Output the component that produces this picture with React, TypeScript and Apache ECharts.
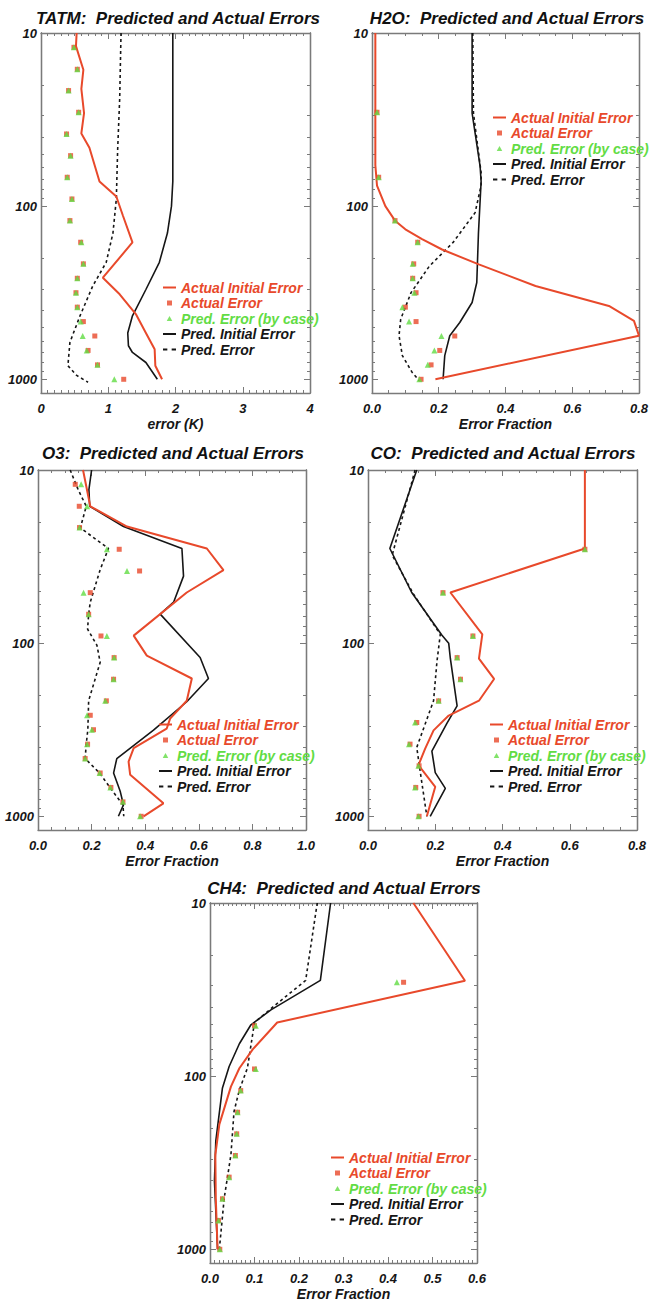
import React, { useEffect, useRef } from "react";
import * as echarts from "echarts";

const RED = "#e8492b";
const GREEN = "#62dc44";
const INK = "#161616";
const FRAME = "#7a7a7a";
const FONT = "'Liberation Sans', Arial, Helvetica, sans-serif";

const LEGEND_NAMES = [
  "Actual Initial Error",
  "Actual Error",
  "Pred. Error (by case)",
  "Pred. Initial Error",
  "Pred. Error",
];
const LEGEND_COLORS = [RED, RED, GREEN, INK, INK];
const LEGEND_ICONS = [
  "path://M0,0H13V2H0Z",
  "path://M0,0H10V10H0Z",
  "path://M5,0L10,9L0,9Z",
  "path://M0,0H13V2H0Z",
  "path://M0,0H4V2H0ZM8,0H12V2H8Z",
];

const Y_MAJOR = [10, 100, 1000];
const Y_MINOR = [20, 30, 40, 50, 60, 70, 80, 90, 200, 300, 400, 500, 600, 700, 800, 900];

const LEVELS_FINE = [12.1, 16.2, 21.5, 28.7, 38.3, 51.1, 68.1, 90.9, 121.2, 161.6, 215.4, 261.0, 316.2, 383.1, 464.2, 562.3, 681.3, 825.4, 1000];
const LEVELS_COARSE = [28.7, 51.1, 90.9, 121.2, 161.6, 215.4, 287.3, 383.1, 510.9, 681.3, 1000];
const LEVELS_H2O = [28.7, 68.1, 121.2, 161.6, 215.4, 261.0, 316.2, 383.1, 464.2, 562.3, 681.3, 825.4, 1000];

// ---- TATM ----
const tatmInitP = [10, 11.9, 16.3, 21, 29, 38, 46, 72, 88, 114, 162, 259, 323, 420, 540, 670, 835, 1000];
const tatmInitX = [0.53, 0.52, 0.63, 0.6, 0.64, 0.6, 0.72, 0.87, 1.12, 1.22, 1.36, 0.92, 1.17, 1.41, 1.56, 1.69, 1.7, 1.8];
const tatmActX = [0.49, 0.54, 0.41, 0.56, 0.38, 0.44, 0.39, 0.46, 0.43, 0.59, 0.63, 0.54, 0.52, 0.54, 0.63, 0.8, 0.7, 0.84, 1.23];
const tatmPredX = [0.49, 0.54, 0.41, 0.56, 0.38, 0.44, 0.39, 0.46, 0.43, 0.6, 0.63, 0.54, 0.52, 0.54, 0.59, 0.62, 0.68, 0.84, 1.09];
const tatmPInitP = [10, 30, 72, 100, 143, 211, 303, 430, 540, 640, 700, 800, 1000];
const tatmPInitX = [1.96, 1.96, 1.96, 1.94, 1.88, 1.76, 1.56, 1.36, 1.29, 1.3, 1.36, 1.56, 1.73];
const tatmPErrP = [10, 24, 47, 91, 143, 211, 289, 430, 612, 835, 950, 1040];
const tatmPErrX = [1.19, 1.17, 1.14, 1.12, 1.07, 0.97, 0.77, 0.58, 0.43, 0.4, 0.53, 0.7];

// ---- H2O ----
const h2oInitP = [10, 58, 76, 100, 122, 136, 155, 178, 217, 289, 377, 460, 560, 1000];
const h2oInitX = [0.01, 0.01, 0.015, 0.04, 0.07, 0.1, 0.15, 0.21, 0.32, 0.49, 0.71, 0.785, 0.8, 0.19];
const h2oActX = [0.015, 0.02, 0.069, 0.137, 0.125, 0.122, 0.132, 0.1, 0.132, 0.248, 0.203, 0.177, 0.147];
const h2oPredX = [0.015, 0.02, 0.069, 0.137, 0.122, 0.122, 0.127, 0.091, 0.111, 0.208, 0.187, 0.167, 0.142];
const h2oPInitP = [10, 29, 59, 72, 143, 276, 360, 470, 560, 730, 1000];
const h2oPInitX = [0.3, 0.3, 0.324, 0.327, 0.319, 0.314, 0.3, 0.263, 0.233, 0.218, 0.213];
const h2oPErrP = [10, 29, 64, 76, 109, 162, 222, 316, 450, 560, 730, 910, 1020];
const h2oPErrX = [0.302, 0.304, 0.327, 0.327, 0.309, 0.243, 0.172, 0.117, 0.086, 0.081, 0.091, 0.12, 0.142];

// ---- O3 ----
const o3InitP = [10, 16.2, 21.2, 28.4, 37.9, 51, 90.5, 118, 160, 215, 273, 312, 404, 484, 576, 842, 1000];
const o3InitX = [0.168, 0.195, 0.332, 0.63, 0.692, 0.555, 0.357, 0.406, 0.574, 0.555, 0.493, 0.48, 0.357, 0.338, 0.344, 0.468, 0.394];
const o3ActX = [0.139, 0.154, 0.155, 0.303, 0.379, 0.195, 0.189, 0.235, 0.284, 0.282, 0.255, 0.195, 0.207, 0.185, 0.176, 0.232, 0.272, 0.317, 0.385];
const o3PredX = [0.161, 0.183, 0.155, 0.257, 0.332, 0.17, 0.189, 0.257, 0.284, 0.282, 0.251, 0.183, 0.201, 0.183, 0.176, 0.23, 0.27, 0.317, 0.381];
const o3PInitP = [10, 13, 16.2, 21.2, 28.4, 41, 58, 68, 121, 160, 218, 318, 464, 563, 720, 860, 1000];
const o3PInitX = [0.2, 0.19, 0.193, 0.319, 0.537, 0.543, 0.506, 0.456, 0.605, 0.636, 0.555, 0.431, 0.294, 0.282, 0.307, 0.319, 0.3];
const o3PErrP = [10, 13, 16.2, 21.6, 28.4, 37.6, 58, 68, 83, 103, 129, 215, 316, 383, 464, 563, 687, 860, 1000];
const o3PErrX = [0.12, 0.15, 0.18, 0.158, 0.263, 0.232, 0.195, 0.189, 0.185, 0.22, 0.232, 0.189, 0.186, 0.18, 0.176, 0.23, 0.27, 0.317, 0.32];

// ---- CO ----
const coInitP = [10, 28.4, 51, 89, 123, 161, 215, 262, 319, 407, 507, 676, 1000];
const coInitX = [0.645, 0.645, 0.245, 0.34, 0.33, 0.375, 0.33, 0.24, 0.195, 0.17, 0.15, 0.2, 0.175];
const coActX = [0.645, 0.223, 0.312, 0.265, 0.275, 0.21, 0.145, 0.125, 0.152, 0.142, 0.152];
const coPredX = [0.645, 0.223, 0.312, 0.265, 0.275, 0.21, 0.14, 0.122, 0.15, 0.14, 0.15];
const coPInitP = [10, 28.4, 51, 90, 100, 123, 230, 290, 420, 560, 690, 1000];
const coPInitX = [0.145, 0.065, 0.13, 0.22, 0.24, 0.245, 0.265, 0.235, 0.19, 0.2, 0.23, 0.185];
const coPErrP = [10, 31, 52, 89, 128, 215, 400, 600, 1000];
const coPErrX = [0.14, 0.072, 0.135, 0.215, 0.205, 0.195, 0.145, 0.158, 0.175];

// ---- CH4 ----
const ch4InitP = [10, 28.1, 49, 70, 90, 115, 190, 285, 505, 1000];
const ch4InitX = [0.457, 0.573, 0.151, 0.096, 0.066, 0.047, 0.021, 0.012, 0.013, 0.017];
const ch4ActX = [0.435, 0.1, 0.1, 0.069, 0.062, 0.06, 0.057, 0.043, 0.028, 0.019, 0.022];
const ch4PredX = [0.42, 0.103, 0.103, 0.069, 0.062, 0.06, 0.057, 0.043, 0.028, 0.019, 0.022];
const ch4PInitP = [10, 28, 41.4, 50.5, 65, 88, 117, 237, 405, 1000];
const ch4PInitX = [0.271, 0.248, 0.137, 0.092, 0.066, 0.043, 0.028, 0.013, 0.01, 0.017];
const ch4PErrP = [10, 28, 38.6, 49, 90, 120, 160, 285, 505, 1000];
const ch4PErrX = [0.241, 0.215, 0.148, 0.1, 0.084, 0.066, 0.054, 0.047, 0.032, 0.021];

const zip = (xs: number[], ps: number[]) => xs.map((x, i) => [x, ps[i]]);

const PANELS = [
  {
    title: "TATM:  Predicted and Actual Errors", xName: "error (K)", xMax: 4, xStep: 1, minor: 10, dec: 0,
    grid: { left: 41, top: 33, width: 269, height: 360 }, titleX: 178, titleY: 10, legend: { left: 163, top: 280 },
    init: zip(tatmInitX, tatmInitP), act: zip(tatmActX, LEVELS_FINE), pred: zip(tatmPredX, LEVELS_FINE),
    pinit: zip(tatmPInitX, tatmPInitP), perr: zip(tatmPErrX, tatmPErrP),
  },
  {
    title: "H2O:  Predicted and Actual Errors", xName: "Error Fraction", xMax: 0.8, xStep: 0.2, minor: 4, dec: 1,
    grid: { left: 372, top: 33, width: 268, height: 360 }, titleX: 507, titleY: 10, legend: { left: 493, top: 110 },
    init: zip(h2oInitX, h2oInitP), act: zip(h2oActX, LEVELS_H2O), pred: zip(h2oPredX, LEVELS_H2O),
    pinit: zip(h2oPInitX, h2oPInitP), perr: zip(h2oPErrX, h2oPErrP),
  },
  {
    title: "O3:  Predicted and Actual Errors", xName: "Error Fraction", xMax: 1.0, xStep: 0.2, minor: 4, dec: 1,
    grid: { left: 38, top: 470, width: 268, height: 360 }, titleX: 173, titleY: 445, legend: { left: 159, top: 717 },
    init: zip(o3InitX, o3InitP), act: zip(o3ActX, LEVELS_FINE), pred: zip(o3PredX, LEVELS_FINE),
    pinit: zip(o3PInitX, o3PInitP), perr: zip(o3PErrX, o3PErrP),
  },
  {
    title: "CO:  Predicted and Actual Errors", xName: "Error Fraction", xMax: 0.8, xStep: 0.2, minor: 4, dec: 1,
    grid: { left: 368, top: 470, width: 269, height: 360 }, titleX: 503, titleY: 445, legend: { left: 490, top: 717 },
    init: zip(coInitX, coInitP), act: zip(coActX, LEVELS_COARSE), pred: zip(coPredX, LEVELS_COARSE),
    pinit: zip(coPInitX, coPInitP), perr: zip(coPErrX, coPErrP),
  },
  {
    title: "CH4:  Predicted and Actual Errors", xName: "Error Fraction", xMax: 0.6, xStep: 0.1, minor: 10, dec: 1,
    grid: { left: 210, top: 903, width: 267, height: 360 }, titleX: 344, titleY: 880, legend: { left: 331, top: 1150 },
    init: zip(ch4InitX, ch4InitP), act: zip(ch4ActX, LEVELS_COARSE), pred: zip(ch4PredX, LEVELS_COARSE),
    pinit: zip(ch4PInitX, ch4PInitP), perr: zip(ch4PErrX, ch4PErrP),
  },
];

const labelFont = { fontFamily: FONT, fontStyle: "italic" as const, fontWeight: "bold" as const, color: INK };

function buildOption() {
  const grid: any[] = [];
  const xAxis: any[] = [];
  const yAxis: any[] = [];
  const series: any[] = [];
  const title: any[] = [];
  const legend: any[] = [];

  PANELS.forEach((p, i) => {
    grid.push({ ...p.grid, show: false });
    const baseX = {
      gridIndex: i, type: "value", min: 0, max: p.xMax, interval: p.xStep,
      splitLine: { show: false },
      axisLine: { show: true, onZero: false, lineStyle: { color: FRAME, width: 1.3 } },
      axisTick: { show: true, inside: true, length: 6, lineStyle: { color: FRAME } },
      minorTick: { show: true, splitNumber: p.minor, length: 3, lineStyle: { color: FRAME } },
    };
    xAxis.push({
      ...baseX, position: "bottom",
      name: p.xName, nameLocation: "middle", nameGap: 24,
      nameTextStyle: { ...labelFont, fontSize: 14 },
      axisLabel: { ...labelFont, fontSize: 13, margin: 9, formatter: (v: number) => v.toFixed(p.dec) },
    });
    xAxis.push({ ...baseX, position: "top", axisLabel: { show: false } });

    const baseY = {
      gridIndex: i, type: "log", logBase: 10, min: 10, max: 1200, inverse: true,
      splitLine: { show: false },
      axisLine: { show: true, onZero: false, lineStyle: { color: FRAME, width: 1.3 } },
    };
    yAxis.push({
      ...baseY, position: "left",
      axisTick: { show: true, inside: true, length: 6, customValues: Y_MAJOR, lineStyle: { color: FRAME } },
      axisLabel: { ...labelFont, fontSize: 13, margin: 4, customValues: Y_MAJOR, formatter: (v: number) => String(Math.round(v)) },
    });
    yAxis.push({
      ...baseY, position: "right",
      axisTick: { show: true, inside: true, length: 6, customValues: Y_MAJOR, lineStyle: { color: FRAME } },
      axisLabel: { show: false },
    });
    yAxis.push({
      ...baseY, position: "left",
      axisTick: { show: true, inside: true, length: 3, customValues: Y_MINOR, lineStyle: { color: FRAME } },
      axisLabel: { show: false },
    });
    yAxis.push({
      ...baseY, position: "right",
      axisTick: { show: true, inside: true, length: 3, customValues: Y_MINOR, lineStyle: { color: FRAME } },
      axisLabel: { show: false },
    });

    const xi = 2 * i;
    const yi = 4 * i;
    series.push({
      name: LEGEND_NAMES[0], type: "line", xAxisIndex: xi, yAxisIndex: yi, data: p.init,
      symbol: "none", lineStyle: { color: RED, width: 2 }, itemStyle: { color: RED }, z: 3,
    });
    series.push({
      name: LEGEND_NAMES[1], type: "scatter", xAxisIndex: xi, yAxisIndex: yi, data: p.act,
      symbol: "rect", symbolSize: 5, itemStyle: { color: RED }, z: 4,
    });
    series.push({
      name: LEGEND_NAMES[2], type: "scatter", xAxisIndex: xi, yAxisIndex: yi, data: p.pred,
      symbol: "triangle", symbolSize: 6, itemStyle: { color: GREEN }, z: 5,
    });
    series.push({
      name: LEGEND_NAMES[3], type: "line", xAxisIndex: xi, yAxisIndex: yi, data: p.pinit,
      symbol: "none", lineStyle: { color: INK, width: 1.6 }, itemStyle: { color: INK }, z: 2,
    });
    series.push({
      name: LEGEND_NAMES[4], type: "line", xAxisIndex: xi, yAxisIndex: yi, data: p.perr,
      symbol: "none", lineStyle: { color: INK, width: 1.6, type: [3, 3] }, itemStyle: { color: INK }, z: 2,
    });

    title.push({
      text: p.title, left: p.titleX, top: p.titleY, textAlign: "center", padding: 0,
      textStyle: { ...labelFont, fontSize: 17, color: "#111" },
    });
    legend.push({
      orient: "vertical", left: p.legend.left, top: p.legend.top, padding: 0,
      itemWidth: 13, itemHeight: 5, itemGap: 0.5, selectedMode: false, symbolKeepAspect: true,
      textStyle: { ...labelFont, fontSize: 14, lineHeight: 15 },
      data: LEGEND_NAMES.map((n, k) => ({
        name: n,
        icon: LEGEND_ICONS[k],
        itemStyle: { color: LEGEND_COLORS[k], borderWidth: 0 },
        textStyle: { color: LEGEND_COLORS[k] },
      })),
    });
  });

  return {
    animation: false,
    backgroundColor: "#ffffff",
    grid, xAxis, yAxis, series, title, legend,
  };
}

export default function App() {
  const ref = useRef<HTMLDivElement>(null);
  useEffect(() => {
    if (!ref.current) return;
    const chart = echarts.init(ref.current, undefined, { renderer: "svg" });
    chart.setOption(buildOption() as any);
    return () => chart.dispose();
  }, []);
  return (
    <div
      ref={ref}
      style={{ position: "absolute", left: 0, top: 0, width: 651, height: 1305, background: "#fff" }}
    />
  );
}
